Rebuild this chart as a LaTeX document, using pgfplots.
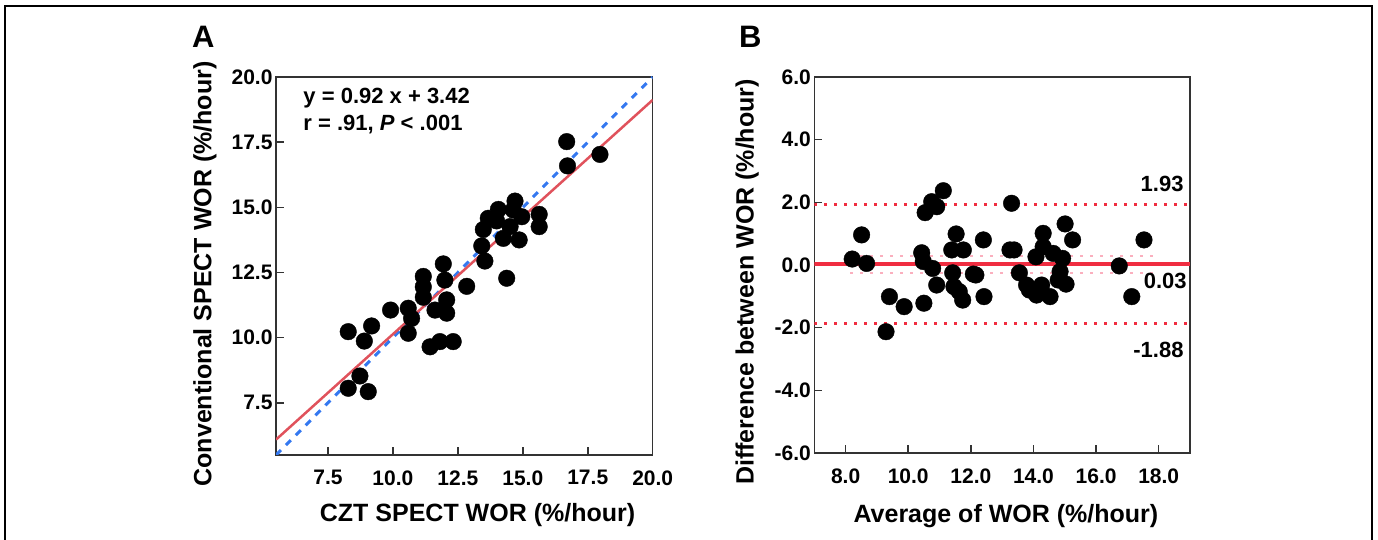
\documentclass[border=0pt]{standalone}
\usepackage{fontspec}
\setmainfont{Liberation Sans}
\usepackage{pgfplots}
\pgfplotsset{compat=1.18}

\definecolor{regred}{RGB}{224,82,92}
\definecolor{idblue}{RGB}{52,120,240}
\definecolor{bared}{RGB}{240,45,65}
\definecolor{cipink}{RGB}{250,175,190}

\newcommand{\tickfont}{\bfseries\fontsize{21}{21}\selectfont}
\newcommand{\labfont}{\bfseries\fontsize{25}{25}\selectfont}

\pgfplotsset{
  panel/.style={
    scale only axis,
    axis line style={black!80, line width=1.5pt},
    tick style={black!80, line width=1.5pt},
    major tick length=8pt,
    xtick pos=left, ytick pos=left,
    tick label style={font=\tickfont},
    xticklabel style={yshift=-12pt},
    label style={font=\labfont},
    /pgf/number format/.cd, fixed, fixed zerofill, precision=1, assume math mode=true,
  },
  dots/.style={only marks, mark=*, mark size=8.3pt, mark options={fill=black, draw=black}},
}

\begin{document}
\begin{tikzpicture}

% A: CZT vs conventional
\begin{axis}[panel,
  at={(276pt,85pt)}, anchor=south west,
  width=376.7pt, height=378pt,
  xmin=5.5, xmax=20, ymin=5.5, ymax=20,
  xtick={7.5,10,12.5,15,17.5,20},
  ytick={7.5,10,12.5,15,17.5,20},
  xlabel={CZT SPECT WOR (\%/hour)},
  ylabel={Conventional SPECT WOR (\%/hour)},
  xlabel style={at={(axis description cs:0.535,-0.159)}, anchor=center},
  ylabel style={at={(axis description cs:-0.1885,0.479)}, anchor=center},
]
\addplot[dots] coordinates {
  (16.69,17.52) (16.72,16.59) (17.97,17.03) (14.70,15.24) (14.06,14.92)
  (13.67,14.58) (13.48,14.15) (13.99,14.48) (14.63,14.90) (14.96,14.64)
  (15.63,14.73) (15.63,14.26) (14.86,13.75) (14.25,13.81) (14.51,14.26)
  (13.42,13.52) (13.54,12.94) (14.38,12.28) (12.84,11.97) (11.94,12.83)
  (11.17,12.35) (11.17,11.95) (11.17,11.55) (12.00,12.21) (12.07,11.45)
  (12.07,10.94) (11.62,11.06) (10.59,11.13) (10.72,10.74) (10.59,10.17)
  (9.91,11.06) (11.43,9.65) (11.81,9.85) (12.32,9.85) (8.28,10.23)
  (9.18,10.45) (8.90,9.87) (8.28,8.06) (8.73,8.53) (9.05,7.93)
};
\addplot[idblue, line width=3pt, dash pattern=on 7pt off 7pt] coordinates {(5.5,5.5) (20,20)};
\addplot[regred, line width=2.5pt] coordinates {(5.5,6.09) (20,19.12)};
\node[anchor=west, inner sep=0, font=\bfseries\fontsize{22}{22}\selectfont] at (axis cs:6.55,19.18) {y = 0.92 x + 3.42};
\node[anchor=west, inner sep=0, font=\bfseries\fontsize{22}{22}\selectfont] at (axis cs:6.55,18.16) {r = .91, \textit{P} < .001};
\end{axis}

% B: Bland-Altman
\begin{axis}[panel,
  at={(814.3pt,87pt)}, anchor=south west,
  width=375.7pt, height=376pt,
  xmin=7, xmax=19, ymin=-6, ymax=6,
  xtick={8,10,12,14,16,18},
  ytick={-6,-4,-2,0,2,4,6},
  xlabel={Average of WOR (\%/hour)},
  ylabel={Difference between WOR (\%/hour)},
  xlabel style={at={(axis description cs:0.51,-0.169)}, anchor=center},
  ylabel style={at={(axis description cs:-0.179,0.455)}, anchor=center},
]
\addplot[bared, line width=3pt, dash pattern=on 3pt off 7pt] coordinates {(7,1.93) (19,1.93)};
\addplot[bared, line width=3pt, dash pattern=on 3pt off 7pt] coordinates {(7,-1.88) (19,-1.88)};
\addplot[cipink, line width=2.5pt, dash pattern=on 3pt off 7pt] coordinates {(8.15,0.28) (17.95,0.28)};
\addplot[cipink, line width=2.5pt, dash pattern=on 3pt off 7pt] coordinates {(8.15,-0.25) (17.95,-0.25)};
\addplot[bared, line width=3.5pt] coordinates {(7,0.03) (19,0.03)};
\addplot[dots] coordinates {
  (8.21,0.19) (8.51,0.96) (8.67,0.05) (9.40,-1.01) (9.29,-2.13)
  (9.87,-1.33) (10.50,-1.22) (10.54,1.67) (10.75,2.02) (10.91,1.86)
  (11.12,2.37) (10.43,0.39) (10.48,0.11) (10.78,-0.11) (10.91,-0.64)
  (11.39,0.48) (11.53,0.99) (11.76,0.48) (11.42,-0.25) (11.46,-0.69)
  (11.63,-0.85) (11.74,-1.12) (12.08,-0.29) (12.16,-0.32) (12.40,0.80)
  (12.42,-1.01) (13.30,1.97) (13.25,0.48) (13.38,0.48) (13.55,-0.25)
  (13.78,-0.64) (13.87,-0.80) (14.10,-0.96) (14.26,-0.64) (14.53,-1.01)
  (14.08,0.26) (14.31,1.01) (14.31,0.58) (14.63,0.37) (14.93,0.21)
  (14.85,-0.21) (14.79,-0.48) (15.04,-0.61) (15.01,1.31) (15.25,0.80)
  (16.74,-0.03) (17.14,-1.01) (17.53,0.80)
};
\node[anchor=east, inner sep=0, font=\bfseries\fontsize{22}{22}\selectfont] at (axis cs:18.8,2.6) {1.93};
\node[anchor=east, inner sep=0, font=\bfseries\fontsize{22}{22}\selectfont] at (axis cs:18.9,-0.51) {0.03};
\node[anchor=east, inner sep=0, font=\bfseries\fontsize{22}{22}\selectfont] at (axis cs:18.8,-2.7) {-1.88};
\end{axis}

\node[anchor=north west, inner sep=0, font=\bfseries\fontsize{31}{31}\selectfont] at (192pt,514pt) {A};
\node[anchor=north west, inner sep=0, font=\bfseries\fontsize{31}{31}\selectfont] at (739pt,514pt) {B};

\draw[line width=2pt] (5pt,0pt) -- (5pt,534pt) -- (1372pt,534pt) -- (1372pt,0pt);

\pgfresetboundingbox
\useasboundingbox (0,0) rectangle (1378pt,540pt);
\end{tikzpicture}
\end{document}
